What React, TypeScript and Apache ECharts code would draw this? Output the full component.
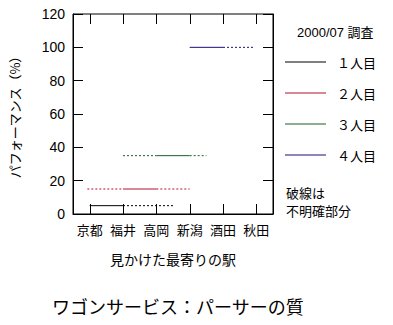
import React, { useEffect, useRef } from "react";
import * as echarts from "echarts";

const categories = ["京都", "福井", "高岡", "新潟", "酒田", "秋田"];
const seriesNames = ["１人目", "２人目", "３人目", "４人目"];
const seriesColors = ["#000000", "#b4102c", "#1a602a", "#1a1070"];
const levels = [5, 15, 35, 100];
const solidSpans = [
  [0, 1],
  [1, 2],
  [2, 3],
  [3, 4],
];
const dottedSpans = [
  [[1, 2.5]],
  [
    [-0.07, 1],
    [2, 3],
  ],
  [
    [1, 2],
    [3, 3.5],
  ],
  [[4, 4.9]],
];
const yTicks = [0, 20, 40, 60, 80, 100, 120];

const FONT = "'Liberation Sans', 'Noto Sans CJK JP', sans-serif";
const JFONT = "'Noto Sans CJK JP', sans-serif";

export default function App() {
  const ref = useRef<HTMLDivElement>(null);
  useEffect(() => {
    if (!ref.current) return;
    const chart = echarts.init(ref.current, undefined, { renderer: "svg" });
    const yMin = yTicks[0];
    const yMax = yTicks[yTicks.length - 1];
    const yStep = yTicks[1] - yTicks[0];

    const series: any[] = [];
    seriesNames.forEach((name, i) => {
      const v = levels[i];
      series.push({
        name,
        type: "line",
        xAxisIndex: 0,
        yAxisIndex: 0,
        symbol: "none",
        silent: true,
        color: seriesColors[i],
        lineStyle: { width: 1, color: seriesColors[i], type: "solid" },
        data: [
          [solidSpans[i][0], v],
          [solidSpans[i][1], v],
        ],
      });
      dottedSpans[i].forEach((sp, j) => {
        series.push({
          name: name + "_dot" + j,
          type: "line",
          xAxisIndex: 0,
          yAxisIndex: 0,
          symbol: "none",
          silent: true,
          color: seriesColors[i],
          lineStyle: { width: 1, color: seriesColors[i], type: [2, 2] },
          data: [
            [sp[0], v],
            [sp[1], v],
          ],
        });
      });
    });
    // category tick marks on the bottom and top frame, placed through the x scale
    series.push({
      name: "xticks",
      type: "custom",
      xAxisIndex: 0,
      yAxisIndex: 0,
      silent: true,
      clip: false,
      z: 10,
      encode: { x: 0, y: 1 },
      data: categories.map((_, i) => [i, yMin]),
      renderItem: (params: any, api: any) => {
        const x = Math.round(api.coord([api.value(0), yMin])[0]);
        const yb = Math.round(api.coord([0, yMin])[1]);
        const yt = Math.round(api.coord([0, yMax])[1]);
        const style = { fill: "#000", stroke: null };
        return {
          type: "group",
          children: [
            { type: "rect", shape: { x: x, y: yb - 10, width: 1, height: 10 }, style },
            { type: "rect", shape: { x: x, y: yt, width: 1, height: 10 }, style },
          ],
        };
      },
    });

    const tick = () => ({
      show: true,
      inside: true,
      length: 10,
      lineStyle: { color: "#000", width: 1 },
    });

    chart.setOption({
      animation: false,
      backgroundColor: "#ffffff",
      textStyle: { fontFamily: FONT },
      title: {
        text: "ワゴンサービス：パーサーの質",
        left: 52,
        top: 297,
        padding: 0,
        textStyle: { fontSize: 18, fontWeight: "normal", color: "#000", fontFamily: JFONT },
      },
      grid: {
        left: 73,
        right: 120,
        top: 14,
        bottom: 111,
        show: true,
        borderColor: "#000",
        borderWidth: 1,
        backgroundColor: "transparent",
      },
      legend: {
        data: seriesNames,
        orient: "vertical",
        left: 285,
        top: 55,
        padding: 0,
        icon: "rect",
        itemWidth: 41,
        itemHeight: 1,
        itemGap: 17,
        selectedMode: false,
        textStyle: {
          fontSize: 13,
          color: "#000",
          lineHeight: 14,
          padding: [0, 0, 0, 6],
          fontFamily: JFONT,
        },
      },
      graphic: [
        {
          type: "text",
          left: 297,
          top: 26,
          style: { text: "2000/07 調査", fill: "#000", font: "13px " + FONT },
        },
        {
          type: "text",
          left: 286,
          top: 183,
          style: {
            text: "破線は\n不明確部分",
            fill: "#000",
            font: "13px " + JFONT,
            lineHeight: 18,
          },
        },
      ],
      xAxis: [
        {
          type: "value",
          position: "bottom",
          min: -0.5,
          max: 5.5,
          axisLine: { show: true, onZero: false, lineStyle: { color: "#000", width: 1 } },
          axisTick: { show: false },
          axisLabel: { show: false },
          splitLine: { show: false },
        },
        {
          type: "category",
          data: categories,
          position: "bottom",
          boundaryGap: true,
          name: "見かけた最寄りの駅",
          nameLocation: "middle",
          nameGap: 38,
          nameTextStyle: { fontSize: 14, color: "#000", fontFamily: JFONT },
          axisLine: { show: false, onZero: false },
          axisTick: { show: false },
          axisLabel: {
            show: true,
            interval: 0,
            fontSize: 13,
            color: "#000",
            margin: 9,
            fontFamily: JFONT,
          },
          splitLine: { show: false },
        },
      ],
      yAxis: [
        {
          type: "value",
          position: "left",
          min: yMin,
          max: yMax,
          interval: yStep,
          name: "パフォーマンス（%）",
          nameLocation: "middle",
          nameRotate: 90,
          nameGap: 52,
          nameTextStyle: { fontSize: 13, color: "#000", fontFamily: JFONT },
          axisLine: { show: true, onZero: false, lineStyle: { color: "#000", width: 1 } },
          axisTick: tick(),
          axisLabel: { show: true, fontSize: 14, color: "#000", margin: 8, fontFamily: FONT },
          splitLine: { show: false },
        },
        {
          type: "value",
          position: "right",
          min: yMin,
          max: yMax,
          interval: yStep,
          axisLine: { show: true, onZero: false, lineStyle: { color: "#000", width: 1 } },
          axisTick: tick(),
          axisLabel: { show: false },
          splitLine: { show: false },
        },
      ],
      series,
    });
    return () => chart.dispose();
  }, []);
  return (
    <div
      ref={ref}
      style={{ width: 393, height: 325, position: "absolute", left: 0, top: 0 }}
    />
  );
}
